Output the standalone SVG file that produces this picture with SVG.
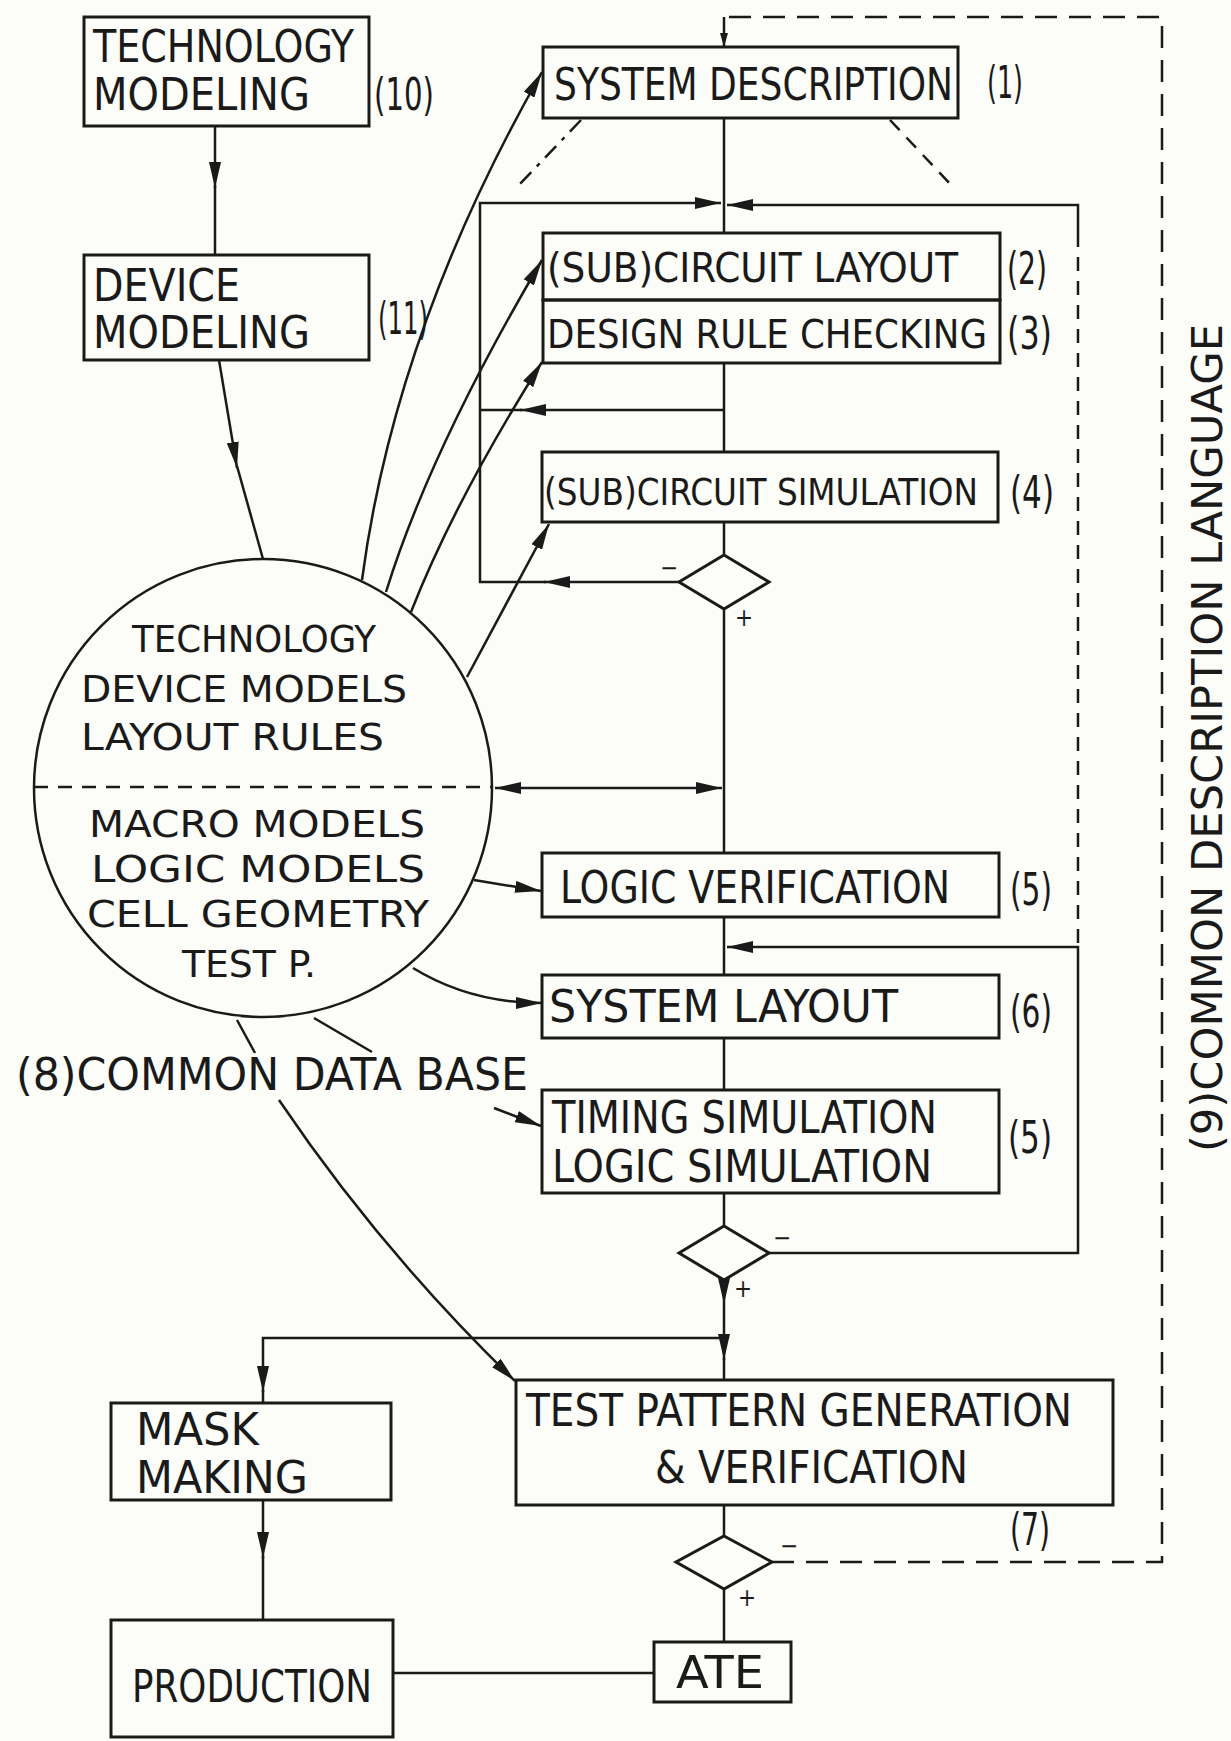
<svg xmlns="http://www.w3.org/2000/svg" width="1231" height="1741" viewBox="0 0 1231 1741">
<style>
.bx{fill:none;stroke:#1a1a1a;stroke-width:3}
.ln{fill:none;stroke:#1a1a1a;stroke-width:2.5}
.ds{fill:none;stroke:#1a1a1a;stroke-width:2.5;stroke-dasharray:14 10}
.dl{fill:none;stroke:#1a1a1a;stroke-width:2.5;stroke-dasharray:22 12}
.dd{fill:none;stroke:#1a1a1a;stroke-width:2.5;stroke-dasharray:16 8 4 8}
.a{marker-end:url(#ah)}
text{font-family:"Liberation Sans Narrow","DejaVu Sans Condensed","Liberation Sans",sans-serif;fill:#1a1a1a}
.t{font-size:44px}
.m{font-size:38px}
.s{font-size:24px}
</style>
<defs>
<marker id="ah" viewBox="0 0 26 12" refX="26" refY="6" markerWidth="26" markerHeight="12" markerUnits="userSpaceOnUse" orient="auto-start-reverse"><path d="M0,0 L26,6 L0,12 z" fill="#1a1a1a"/></marker>
<marker id="ahs" viewBox="0 0 14 8" refX="14" refY="4" markerWidth="14" markerHeight="8" markerUnits="userSpaceOnUse" orient="auto"><path d="M0,0 L14,4 L0,8 z" fill="#1a1a1a"/></marker>
</defs>
<rect x="0" y="0" width="1231" height="1741" fill="#fcfcf8"/>

<g id="connectors">
<path class="ln" d="M724,118 V233"/>
<path class="ln" d="M724,363 V452"/>
<path class="ln" d="M724,522 V555"/>
<path class="ln" d="M724,609 V853"/>
<path class="ln" d="M724,917 V975"/>
<path class="ln" d="M724,1038 V1090"/>
<path class="ln" d="M724,1193 V1226"/>
<path class="ln a" d="M724,1280 V1304"/>
<path class="ln a" d="M724,1304 V1360"/>
<path class="ln" d="M724,1358 V1380"/>
<path class="ln a" d="M724,1338 H263 V1392"/>
<path class="ln" d="M263,1390 V1403"/>
<path class="ln" d="M724,1505 V1536"/>
<path class="ln" d="M724,1589 V1642"/>
<path class="ln" d="M654,1673 H393"/>
<path class="ln a" d="M263,1500 V1558"/>
<path class="ln" d="M263,1556 V1620"/>
<path class="ln a" d="M215,126 V188"/>
<path class="ln" d="M215,186 V255"/>
<path class="ln a" d="M679,582 H544"/>
<path class="ln a" d="M546,582 H480 V203 H721"/>
<path class="ln a" d="M724,410 H520"/>
<path class="ln" d="M522,410 H480"/>
<path class="ln a" d="M1078,233 V205 H727"/>
<path class="ds" d="M1078,233 V947"/>
<path class="ln a" d="M769,1253 H1078 V947 H727"/>
<path class="ln a" style="marker-start:url(#ah)" d="M495,788 H722"/>
<path class="dl" d="M772,1562 H1162 V17 H724"/>
<path class="ln" style="marker-end:url(#ahs)" d="M724,17 V47"/>
<path class="dd" d="M581,120 L518,186"/>
<path class="ds" d="M890,120 L952,186"/>
<path class="ln a" d="M219,360 L237,468"/>
<path class="ln" d="M237,466 L263,559"/>
<path class="ln a" d="M362,580 Q395,330 542,72"/>
<path class="ln a" d="M386,592 Q430,450 542,260"/>
<path class="ln a" d="M411,612 Q455,500 542,362"/>
<path class="ln a" d="M467,677 L549,524"/>
<path class="ln a" d="M474,880 L541,891"/>
<path class="ln a" d="M413,968 Q470,1003 542,1003"/>
<path class="ln" d="M237,1020 L255,1053"/>
<path class="ln a" d="M279,1100 Q380,1250 515,1381"/>
<path class="ln" d="M314,1018 L372,1052"/>
<path class="ln a" d="M494,1108 L541,1126"/>
</g>

<g id="n10">
<rect class="bx" x="84" y="17" width="285" height="109"/>
<text class="t" x="93" y="62" textLength="261" lengthAdjust="spacingAndGlyphs">TECHNOLOGY</text>
<text class="t" x="93" y="110" textLength="217" lengthAdjust="spacingAndGlyphs">MODELING</text>
<text class="t" x="374" y="110" textLength="60" lengthAdjust="spacingAndGlyphs">(10)</text>
</g>
<g id="n11">
<rect class="bx" x="84" y="255" width="285" height="105"/>
<text class="t" x="93" y="301" textLength="147" lengthAdjust="spacingAndGlyphs">DEVICE</text>
<text class="t" x="93" y="348" textLength="217" lengthAdjust="spacingAndGlyphs">MODELING</text>
<text class="t" x="378" y="334" textLength="50" lengthAdjust="spacingAndGlyphs">(11)</text>
</g>
<g id="n1">
<rect class="bx" x="543" y="47" width="415" height="71"/>
<text class="t" x="554" y="100" textLength="399" lengthAdjust="spacingAndGlyphs">SYSTEM DESCRIPTION</text>
<text class="t" x="987" y="98" textLength="36" lengthAdjust="spacingAndGlyphs">(1)</text>
</g>
<g id="n2">
<rect class="bx" x="543" y="233" width="457" height="67"/>
<text class="t" style="font-size:41px" x="547" y="282" textLength="411" lengthAdjust="spacingAndGlyphs">(SUB)CIRCUIT LAYOUT</text>
<text class="t" x="1007" y="284" textLength="40" lengthAdjust="spacingAndGlyphs">(2)</text>
</g>
<g id="n3">
<rect class="bx" x="543" y="300" width="457" height="63"/>
<text class="t" style="font-size:39px" x="547" y="348" textLength="440" lengthAdjust="spacingAndGlyphs">DESIGN RULE CHECKING</text>
<text class="t" x="1007" y="349" textLength="45" lengthAdjust="spacingAndGlyphs">(3)</text>
</g>
<g id="n4">
<rect class="bx" x="542" y="452" width="456" height="70"/>
<text class="t" style="font-size:37px" x="544" y="505" textLength="434" lengthAdjust="spacingAndGlyphs">(SUB)CIRCUIT SIMULATION</text>
<text class="t" x="1010" y="508" textLength="44" lengthAdjust="spacingAndGlyphs">(4)</text>
</g>
<g id="d1">
<polygon class="bx" points="724,555 769,582 724,609 679,582"/>
<text class="s" x="660" y="576">−</text>
<text class="s" x="735" y="626">+</text>
</g>
<g id="n8">
<circle class="ln" cx="263" cy="788" r="229"/>
<path class="ds" d="M34,787 H492"/>
<text class="m" x="132" y="652" textLength="244" lengthAdjust="spacingAndGlyphs">TECHNOLOGY</text>
<text class="m" x="81" y="702" textLength="326" lengthAdjust="spacingAndGlyphs">DEVICE MODELS</text>
<text class="m" x="81" y="750" textLength="303" lengthAdjust="spacingAndGlyphs">LAYOUT RULES</text>
<text class="m" x="89" y="837" textLength="336" lengthAdjust="spacingAndGlyphs">MACRO MODELS</text>
<text class="m" x="91" y="882" textLength="334" lengthAdjust="spacingAndGlyphs">LOGIC  MODELS</text>
<text class="m" x="87" y="927" textLength="342" lengthAdjust="spacingAndGlyphs">CELL GEOMETRY</text>
<text class="m" x="182" y="977" textLength="134" lengthAdjust="spacingAndGlyphs">TEST P.</text>
<text class="t" x="16" y="1090" textLength="512" lengthAdjust="spacingAndGlyphs">(8)COMMON DATA BASE</text>
</g>
<g id="n5a">
<rect class="bx" x="542" y="853" width="457" height="64"/>
<text class="t" x="560" y="903" textLength="390" lengthAdjust="spacingAndGlyphs">LOGIC VERIFICATION</text>
<text class="t" x="1010" y="905" textLength="42" lengthAdjust="spacingAndGlyphs">(5)</text>
</g>
<g id="n6">
<rect class="bx" x="542" y="975" width="457" height="63"/>
<text class="t" x="549" y="1022" textLength="349" lengthAdjust="spacingAndGlyphs">SYSTEM  LAYOUT</text>
<text class="t" x="1010" y="1027" textLength="42" lengthAdjust="spacingAndGlyphs">(6)</text>
</g>
<g id="n5b">
<rect class="bx" x="542" y="1090" width="457" height="103"/>
<text class="t" x="552" y="1133" textLength="385" lengthAdjust="spacingAndGlyphs">TIMING  SIMULATION</text>
<text class="t" x="552" y="1182" textLength="380" lengthAdjust="spacingAndGlyphs">LOGIC  SIMULATION</text>
<text class="t" x="1008" y="1153" textLength="44" lengthAdjust="spacingAndGlyphs">(5)</text>
</g>
<g id="d2">
<polygon class="bx" points="724,1226 769,1253 724,1280 679,1253"/>
<text class="s" x="773" y="1246">−</text>
<text class="s" x="734" y="1297">+</text>
</g>
<g id="n7">
<rect class="bx" x="516" y="1380" width="597" height="125"/>
<text class="t" x="526" y="1426" textLength="546" lengthAdjust="spacingAndGlyphs">TEST PATTERN GENERATION</text>
<text class="t" x="655" y="1483" textLength="313" lengthAdjust="spacingAndGlyphs">&amp; VERIFICATION</text>
<text class="t" x="1010" y="1545" textLength="40" lengthAdjust="spacingAndGlyphs">(7)</text>
</g>
<g id="d3">
<polygon class="bx" points="724,1536 772,1562 724,1589 676,1562"/>
<text class="s" x="780" y="1554">−</text>
<text class="s" x="738" y="1606">+</text>
</g>
<g id="mask">
<rect class="bx" x="111" y="1403" width="280" height="97"/>
<text class="t" x="136" y="1445" textLength="123" lengthAdjust="spacingAndGlyphs">MASK</text>
<text class="t" x="136" y="1493" textLength="172" lengthAdjust="spacingAndGlyphs">MAKING</text>
</g>
<g id="production">
<rect class="bx" x="111" y="1620" width="282" height="117"/>
<text class="t" x="132" y="1702" textLength="240" lengthAdjust="spacingAndGlyphs">PRODUCTION</text>
</g>
<g id="ate">
<rect class="bx" x="654" y="1642" width="137" height="60"/>
<text class="t" x="676" y="1688" textLength="88" lengthAdjust="spacingAndGlyphs">ATE</text>
</g>
<g id="n9">
<text class="t" style="font-size:42px" transform="translate(1222,1152) rotate(-90)" x="0" y="0" textLength="828" lengthAdjust="spacingAndGlyphs">(9)COMMON DESCRIPTION LANGUAGE</text>
</g>
</svg>
